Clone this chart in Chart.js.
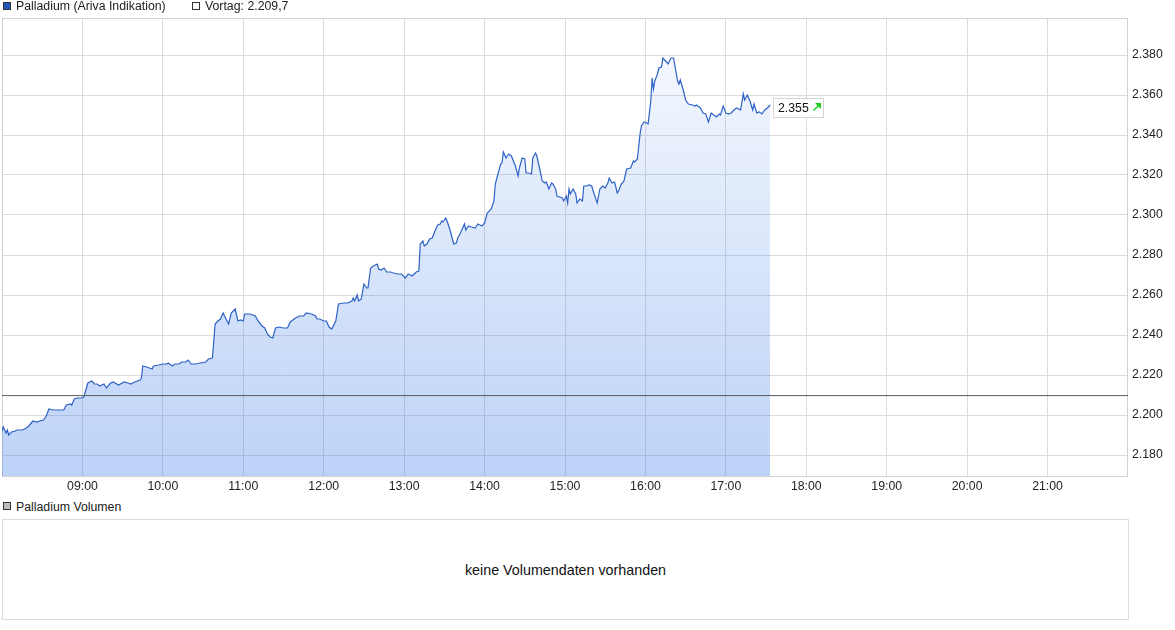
<!DOCTYPE html>
<html lang="de">
<head>
<meta charset="utf-8">
<title>Palladium (Ariva Indikation)</title>
<script src="https://cdn.jsdelivr.net/npm/chart.js@4.4.0/dist/chart.umd.min.js"></script>
<style>
  body { margin: 0; background: #fff; font-family: "Liberation Sans", Arial, sans-serif; color: #222; }
  #wrap { position: relative; width: 1175px; height: 630px; overflow: hidden; }
  .sq { position: absolute; width: 6px; height: 6px; border: 1px solid #333; }
  .txt { position: absolute; font-size: 12.3px; line-height: 14px; white-space: nowrap; }
  #priceChart { position: absolute; left: 0; top: 0; }
  #volBox { position: absolute; left: 2px; top: 519px; width: 1125px; height: 99px; border: 1px solid #dcdcdc;
            font-size: 14.3px; color: #111; display: flex; align-items: center; justify-content: center; }
</style>
</head>
<body>
<div id="wrap">
  <canvas id="priceChart" width="1175" height="500"></canvas>
  <div class="sq" style="left:3px;top:2px;background:#1f55bd;"></div>
  <div class="txt" style="left:16px;top:-1px;">Palladium (Ariva Indikation)</div>
  <div class="sq" style="left:192px;top:2px;background:#fff;"></div>
  <div class="txt" id="vortagText" style="left:205px;top:-1px;"></div>
  <div class="sq" style="left:3px;top:502px;background:#bdbdbd;"></div>
  <div class="txt" style="left:16px;top:500px;">Palladium Volumen</div>
  <div id="volBox">keine Volumendaten vorhanden</div>
</div>
<script>
// Kursverlauf (Uhrzeit / Kurs in USD)
const times = [
  '08:00','08:01','08:03','08:04','08:05','08:07','08:10','08:11','08:15','08:17',
  '08:20','08:23','08:26','08:28','08:31','08:33','08:35','08:38','08:42','08:46',
  '08:48','08:51','08:52','08:54','08:56','08:59','09:01','09:03','09:04','09:07',
  '09:09','09:11','09:13','09:16','09:18','09:21','09:23','09:27','09:31','09:34',
  '09:36','09:39','09:43','09:44','09:45','09:48','09:50','09:52','09:53','09:57',
  '10:00','10:03','10:04','10:07','10:09','10:12','10:14','10:17','10:19','10:21',
  '10:24','10:28','10:32','10:34','10:37','10:39','10:41','10:43','10:45','10:46',
  '10:49','10:51','10:54','10:56','10:58','11:00','11:01','11:05','11:09','11:11',
  '11:14','11:16','11:18','11:20','11:22','11:24','11:27','11:30','11:33','11:35',
  '11:39','11:42','11:45','11:47','11:51','11:54','11:55','11:57','12:00','12:02',
  '12:04','12:06','12:09','12:11','12:15','12:18','12:21','12:22','12:23','12:25',
  '12:26','12:28','12:30','12:32','12:33','12:35','12:37','12:40','12:41','12:43',
  '12:45','12:47','12:50','12:52','12:55','12:57','12:58','13:01','13:03','13:06',
  '13:09','13:11','13:12','13:14','13:15','13:17','13:19','13:21','13:23','13:25',
  '13:27','13:28','13:29','13:31','13:32','13:34','13:36','13:37','13:39','13:40',
  '13:42','13:45','13:46','13:48','13:50','13:53','13:55','13:58','14:00','14:02',
  '14:05','14:07','14:08','14:10','14:12','14:13','14:14','14:16','14:18','14:20',
  '14:23','14:25','14:26','14:28','14:30','14:31','14:33','14:35','14:36','14:38',
  '14:39','14:41','14:43','14:45','14:46','14:48','14:50','14:51','14:53','14:54',
  '14:58','14:59','15:01','15:02','15:03','15:04','15:06','15:08','15:09','15:11',
  '15:13','15:14','15:16','15:18','15:20','15:21','15:24','15:26','15:28','15:30',
  '15:32','15:33','15:35','15:37','15:39','15:40','15:42','15:44','15:46','15:49',
  '15:51','15:52','15:54','15:56','15:57','15:59','16:01','16:02','16:04','16:05',
  '16:06','16:07','16:09','16:10','16:12','16:13','16:15','16:17','16:19','16:21',
  '16:22','16:24','16:25','16:26','16:28','16:30','16:32','16:35','16:37','16:38',
  '16:41','16:43','16:45','16:47','16:49','16:51','16:53','16:55','16:56','16:58',
  '17:00','17:02','17:04','17:06','17:08','17:11','17:13','17:14','17:16','17:18',
  '17:20','17:21','17:23','17:25','17:27','17:29','17:31','17:33'
];
const prices = [
  2192,2194,2191,2192.5,2190,2191.5,2192,2192.5,2192.5,2193,
  2194.5,2197,2196.5,2197,2197.5,2199.5,2203,2202.5,2202.5,2202.5,
  2205,2205.5,2205,2208,2208.5,2208.5,2209,2213.5,2216,2217,
  2215.5,2215.5,2214.5,2215.5,2213.5,2216,2216.5,2215,2216.5,2216,
  2215.5,2216.5,2217.5,2218.5,2224.5,2224,2223.5,2223,2224.5,2225,
  2225.5,2225.5,2226,2224.5,2225.5,2225.5,2226.5,2226.5,2227.5,2225.5,
  2225.5,2226,2226.5,2228,2228.5,2245.5,2247,2248,2251,2249.5,
  2245.5,2251,2253,2247,2247.5,2247,2250.5,2250.5,2249.5,2247,
  2244.5,2243.5,2240.5,2239,2238.5,2243.5,2244,2243.5,2243.5,2246.5,
  2248.5,2249.5,2249.5,2251,2250.5,2249.5,2248,2248,2247,2247,
  2244,2243,2247,2255.5,2256,2256,2257,2258.5,2257,2260,
  2257,2258,2265.5,2263.5,2263.5,2273.5,2274.5,2275.5,2273,2272.5,
  2273.5,2271.5,2271.5,2271,2270.5,2270.5,2270.5,2268.5,2270.5,2269.5,
  2271.5,2272,2285.5,2287,2284.5,2285.5,2288,2288.5,2292,2295,
  2295.5,2297,2296.5,2298.5,2297,2293,2288,2285.5,2286,2288.5,
  2291,2295.5,2292.5,2294.5,2294,2293.5,2295.5,2294.5,2296,2301,
  2303,2307,2315.5,2320.5,2325.5,2326,2331.5,2328.5,2330.5,2329.5,
  2324.5,2319.5,2323.5,2328.5,2328,2321,2321,2320.5,2328.5,2331,
  2329.5,2323.5,2317,2316,2316.5,2313,2316,2315.5,2313,2309.5,
  2308.5,2307,2309.5,2306,2313,2310.5,2313,2310.5,2306,2308,
  2307,2314.5,2314.5,2315,2314.5,2312,2306,2313,2314.5,2313.5,
  2316,2318.5,2316,2316.5,2311,2312,2315.5,2317,2323,2323.5,
  2327,2326.5,2328,2340.5,2344.5,2346.5,2346,2345.5,2357,2368.5,
  2363,2367,2370.5,2373.5,2374,2378.5,2377,2375.5,2378.5,2378.5,
  2374.5,2367,2365.5,2367.5,2363,2357.5,2355.5,2355,2354.5,2355,
  2353.5,2351,2350.5,2346.5,2351,2350,2349,2350.5,2350,2354.5,
  2351,2350.5,2351,2352.5,2353.5,2352.5,2360.5,2357.5,2360,2357,
  2352.5,2355.5,2351,2351.5,2350.5,2352.5,2353.5,2355
];
const vortag = 2209.7;
const xRange = ['08:00', '22:00'];
const xTickLabels = ['09:00','10:00','11:00','12:00','13:00','14:00','15:00','16:00','17:00','18:00','19:00','20:00','21:00'];
const yRange = [2169.5, 2398.5];
const yTicks = [2180, 2200, 2220, 2240, 2260, 2280, 2300, 2320, 2340, 2360, 2380];

const FONT = '"Liberation Sans", Arial, sans-serif';

function toMin(s) {
  const [h, m] = s.split(':').map(Number);
  return h * 60 + m;
}

// 2380 -> "2.380"
function fmtPrice(v) {
  const r = Math.round(v);
  return Math.floor(r / 1000) + '.' + String(r % 1000).padStart(3, '0');
}

// 2209.7 -> "2.209,7"
function fmtPriceDec(v) {
  const [i, d] = v.toFixed(1).split('.');
  return fmtPrice(Number(i)) + ',' + d;
}

document.getElementById('vortagText').textContent = 'Vortag: ' + fmtPriceDec(vortag);

// Rahmen um den Plotbereich
const frame = {
  id: 'frame',
  beforeDatasetsDraw(chart) {
    const a = chart.chartArea, ctx = chart.ctx;
    ctx.save();
    ctx.strokeStyle = '#d2d2d2';
    ctx.lineWidth = 1;
    ctx.strokeRect(a.left + 0.5, a.top + 0.5, a.right - a.left - 1, a.bottom - a.top);
    ctx.restore();
  }
};

// Kursfähnchen am letzten Punkt
const lastLabel = {
  id: 'lastLabel',
  afterDatasetsDraw(chart) {
    const meta = chart.getDatasetMeta(0);
    const pt = meta.data[meta.data.length - 1];
    const ctx = chart.ctx;
    const txt = fmtPrice(prices[prices.length - 1]);
    const bx = Math.round(pt.x) + 3.5, by = Math.round(pt.y) - 6.5;
    const bw = 50, bh = 19;
    ctx.save();
    ctx.fillStyle = '#fff';
    ctx.fillRect(bx, by, bw, bh);
    ctx.strokeStyle = '#d4d4d4';
    ctx.lineWidth = 1;
    ctx.strokeRect(bx, by, bw, bh);
    ctx.font = '12.3px ' + FONT;
    ctx.fillStyle = '#111';
    ctx.textBaseline = 'middle';
    ctx.fillText(txt, bx + 4.5, by + bh / 2 + 0.5);
    // grüner Pfeil
    const ax = bx + 40, ay = by + 12;
    ctx.strokeStyle = '#1ccf1c';
    ctx.fillStyle = '#1ccf1c';
    ctx.lineWidth = 1.5;
    ctx.beginPath();
    ctx.moveTo(ax, ay);
    ctx.lineTo(ax + 5, ay - 5);
    ctx.stroke();
    ctx.beginPath();
    ctx.moveTo(ax + 7.5, ay - 7.5);
    ctx.lineTo(ax + 1.5, ay - 7.5);
    ctx.lineTo(ax + 7.5, ay - 1.5);
    ctx.closePath();
    ctx.fill();
    ctx.restore();
  }
};

const ctx = document.getElementById('priceChart').getContext('2d');
new Chart(ctx, {
  type: 'line',
  data: {
    datasets: [{
      label: 'Palladium (Ariva Indikation)',
      data: times.map((t, i) => ({ x: toMin(t), y: prices[i] })),
      borderColor: '#2d62c6',
      borderWidth: 1.2,
      pointRadius: 0,
      tension: 0,
      fill: 'start',
      order: 1,
      backgroundColor: (c) => {
        const a = c.chart.chartArea;
        if (!a) return 'rgba(40,110,230,0.2)';
        const g = c.chart.ctx.createLinearGradient(0, a.top, 0, a.bottom);
        g.addColorStop(0, 'rgba(40,110,230,0.03)');
        g.addColorStop(1, 'rgba(40,110,230,0.31)');
        return g;
      }
    }, {
      label: 'Vortag',
      data: xRange.map(t => ({ x: toMin(t), y: vortag })),
      borderColor: '#5a5a5a',
      borderWidth: 1,
      pointRadius: 0,
      fill: false,
      order: 0
    }]
  },
  options: {
    responsive: false,
    animation: false,
    layout: { padding: { left: 2, top: 18, right: 0, bottom: 0 } },
    plugins: { legend: { display: false }, tooltip: { enabled: false } },
    scales: {
      x: {
        type: 'linear',
        min: toMin(xRange[0]),
        max: toMin(xRange[1]),
        afterBuildTicks: s => { s.ticks = xTickLabels.map(l => ({ value: toMin(l) })); },
        afterFit: s => { s.height = 24; },
        grid: { color: '#dcdcdc', drawTicks: false },
        border: { display: false },
        ticks: {
          padding: 3, color: '#222', maxRotation: 0, autoSkip: false,
          font: { family: FONT, size: 12.3 },
          callback: (v, i) => xTickLabels[i]
        }
      },
      y: {
        position: 'right',
        min: yRange[0],
        max: yRange[1],
        afterBuildTicks: s => { s.ticks = yTicks.map(v => ({ value: v })); },
        afterFit: s => { s.width = 47; },
        grid: { color: '#dcdcdc', drawTicks: false },
        border: { display: false },
        ticks: {
          padding: 4, color: '#222',
          font: { family: FONT, size: 12.3 },
          callback: v => fmtPrice(v)
        }
      }
    }
  },
  plugins: [frame, lastLabel]
});
</script>
</body>
</html>
